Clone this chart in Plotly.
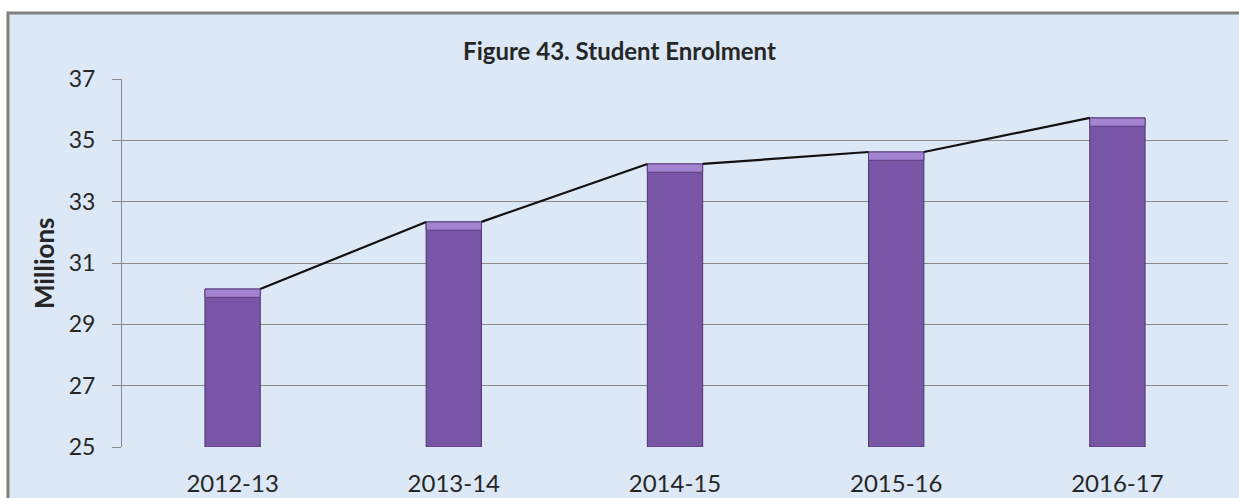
import plotly.graph_objects as go

# data
years = ["2012-13", "2013-14", "2014-15", "2015-16", "2016-17"]
enrolment = [30.15, 32.34, 34.23, 34.62, 35.73]  # millions
y_ticks = [25, 27, 29, 31, 33, 35, 37]

BAR_W = 0.25
BEVEL = 0.27
GRID = "#8a8a8a"
TEXT = "#262626"
BG = "#dce8f5"

xs = list(range(len(years)))

# series line runs from the top-right corner of one bar to the top-left of the next
line_x, line_y = [], []
for i in range(len(years) - 1):
    line_x += [xs[i] + BAR_W / 2, xs[i + 1] - BAR_W / 2, None]
    line_y += [enrolment[i], enrolment[i + 1], None]

fig = go.Figure()
fig.add_trace(go.Bar(
    x=xs, y=[v - 25 for v in enrolment], base=25, width=BAR_W,
    marker=dict(color="#7856a5", line=dict(color="#4d3470", width=1)),
    hoverinfo="skip",
))
fig.add_trace(go.Bar(
    x=xs, y=[BEVEL] * len(xs), base=[v - BEVEL for v in enrolment], width=BAR_W,
    marker=dict(color="#a384d0", line=dict(color="#5a3f7e", width=1)),
    hoverinfo="skip",
))
fig.add_trace(go.Scatter(
    x=line_x, y=line_y, mode="lines",
    line=dict(color="#111111", width=2.2), hoverinfo="skip",
))

# light blue panel with grey frame behind everything
fig.add_shape(
    type="rect", xref="paper", yref="paper", layer="below",
    x0=-0.1031, x1=1.05, y0=-0.2, y1=1.1793,
    line=dict(color="#808080", width=3), fillcolor=BG,
)

fig.add_annotation(
    text="<b>Millions</b>", xref="paper", yref="paper",
    x=-0.0705, y=0.5, xanchor="center", yanchor="middle",
    textangle=-90, showarrow=False,
    font=dict(family="Lato", size=26, color=TEXT),
)

fig.update_layout(
    width=1239, height=498,
    margin=dict(l=122, r=11, t=79, b=51),
    paper_bgcolor="white", plot_bgcolor="rgba(0,0,0,0)",
    barmode="overlay", showlegend=False,
    title=dict(
        text="<b>Figure 43. Student Enrolment</b>",
        x=0.5, xanchor="center", y=1 - 52 / 498, yanchor="middle",
        font=dict(family="Lato", size=24, color=TEXT),
    ),
    font=dict(family="Lato", color=TEXT),
)
fig.update_xaxes(
    range=[-0.5, len(years) - 0.5], tickvals=xs, ticktext=years,
    showgrid=False, zeroline=False, showline=False, ticks="",
    tickfont=dict(size=24, color=TEXT), ticklabelstandoff=20,
    automargin=False,
)
fig.update_yaxes(
    range=[25, 37], tickvals=y_ticks, showgrid=True, gridcolor=GRID, gridwidth=1,
    zeroline=False, showline=True, linecolor=GRID, linewidth=1,
    ticks="outside", ticklen=9, tickcolor=GRID,
    tickfont=dict(size=23, color=TEXT), ticklabelstandoff=12,
    automargin=False,
)

# drop the browser's default 8px page margin so the figure sits at the corner
fig.write_html(
    "out.html",
    config={"displayModeBar": False},
    post_script="document.body.style.margin='0';",
)
